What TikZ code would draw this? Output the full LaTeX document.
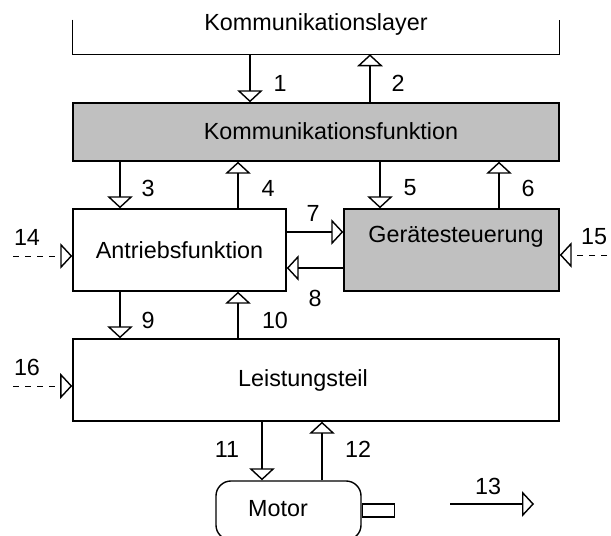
\documentclass[tikz,border=0pt]{standalone}
\usepackage{fontspec}
\setmainfont{Liberation Sans}
\usetikzlibrary{arrows.meta}
\definecolor{grau}{HTML}{C0C0C0}
\tikzset{
	box/.style={draw, line width=1pt, inner sep=0pt},
	sig/.style={line width=1pt, -{Triangle[open, length=0.3cm, width=0.64cm, line width=1pt]}},
	ext/.style={line width=0.6pt, dash pattern=on 0.15cm off 0.15cm, -{Triangle[open, length=0.3cm, width=0.64cm, line width=1pt]}}
}

\begin{document}
\begin{tikzpicture}[x=0.025cm, y=-0.025cm, every node/.style={font=\fontsize{16.6}{20}\selectfont}]
			%%%%% START %%%%%
			\useasboundingbox (0,0) rectangle (611,536);
			
			\node[minimum width=12.15cm, minimum height=0.85cm, inner sep=0pt] (kl) at (316,37) {};
			\draw[line width=1pt] (kl.north west) -- (kl.south west) -- (kl.south east) -- (kl.north east);
			\node (kltext) at (316,24) {Kommunikationslayer};
			
			\node[box, fill=grau, minimum width=12.15cm, minimum height=1.45cm] (kf) at (316,132) {};
			\node (kftext) at (331,131) {Kommunikationsfunktion};
			
			\node[box, minimum width=5.325cm, minimum height=2.05cm] (af) at (179.5,250) {Antriebsfunktion};
			\node[box, fill=grau, minimum width=5.375cm, minimum height=2.05cm] (gs) at (451.5,250) {};
			\node (gstext) at (456,237) {Gerätesteuerung};
			
			\node[box, minimum width=12.15cm, minimum height=2.05cm] (ls) at (316,380) {};
			\node (lstext) at (303,380) {Leistungsteil};
			
			\node[box, rounded corners=0.375cm, minimum width=3.625cm, minimum height=1.475cm] (mo) at (288.5,510.5) {};
			\node (motext) at (278,509) {Motor};
			\node[box, minimum width=0.8cm, minimum height=0.325cm, anchor=west] (welle) at (mo.east) {};
			
			\draw[sig] (kl.south -| 250,0) -- (kf.north -| 250,0);
			\draw[sig] (kf.north -| 370,0) -- (kl.south -| 370,0);
			
			\draw[sig] (kf.south -| 120,0) -- (af.north -| 120,0);
			\draw[sig] (af.north -| 238,0) -- (kf.south -| 238,0);
			\draw[sig] (kf.south -| 380,0) -- (gs.north -| 380,0);
			\draw[sig] (gs.north -| 499,0) -- (kf.south -| 499,0);
			
			\draw[sig] (af.east |- 0,232) -- (gs.west |- 0,232);
			\draw[sig] (gs.west |- 0,268) -- (af.east |- 0,268);
			
			\draw[sig] (af.south -| 120,0) -- (ls.north -| 120,0);
			\draw[sig] (ls.north -| 238,0) -- (af.south -| 238,0);
			
			\draw[sig] (ls.south -| 262,0) -- (mo.north -| 262,0);
			\draw[sig] (mo.north -| 322,0) -- (ls.south -| 322,0);
			
			\coordinate (a13) at (450,504);
			\coordinate (b13) at (534,504);
			\draw[sig] (a13) -- (b13);
			
			\coordinate (e14) at (13,256);
			\coordinate (e15) at (607,255);
			\coordinate (e16) at (13,386);
			\draw[ext] (e14) -- (af.west |- e14);
			\draw[ext] (e15) -- (gs.east |- e15);
			\draw[ext] (e16) -- (ls.west |- e16);
			
			\foreach \t/\x/\y in {1/280/83, 2/398/83, 3/148/188, 4/268/188, 5/410/188, 6/528/188,
				7/313/213, 8/315/298, 9/148/320, 10/275/320, 11/227/449, 12/358/449,
				13/488/486, 14/27/237, 15/594/237, 16/27/367}
				\node (n\t) at (\x,\y) {\t};
			
			%%%%% END %%%%%
		\end{tikzpicture}
\end{document}
